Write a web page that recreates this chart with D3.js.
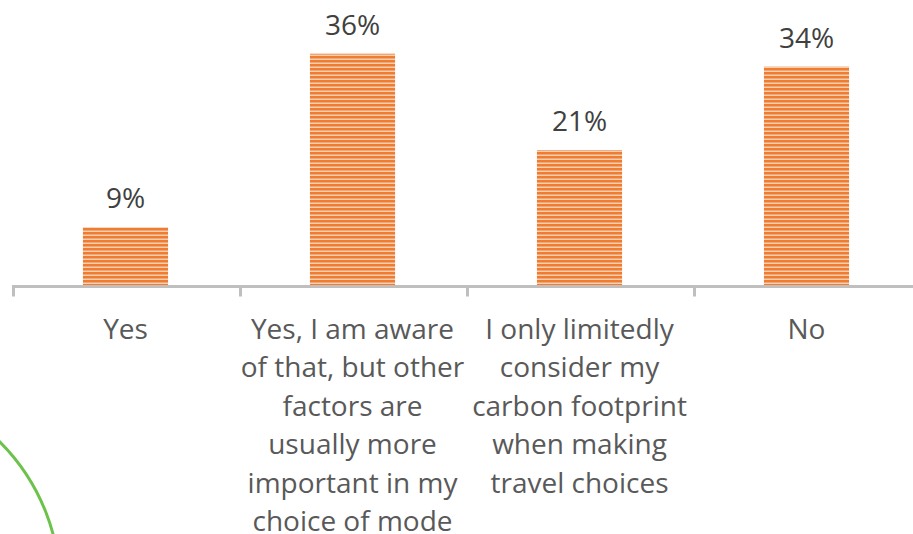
<!DOCTYPE html>
<html>
<head>
<meta charset="utf-8">
<script src="https://cdn.jsdelivr.net/npm/d3@7/dist/d3.min.js"></script>
<style>
  html, body { margin: 0; padding: 0; background: #fff; }
  svg { display: block; }
</style>
</head>
<body>
<svg id="chart" width="913" height="534"></svg>
<script>
// Categories (one entry per line of the wrapped axis label)
const categories = ["Yes", "Aware", "Limited", "No"];
const categoryLines = [
  ["Yes"],
  ["Yes, I am aware", "of that, but other", "factors are", "usually more", "important in my", "choice of mode"],
  ["I only limitedly", "consider my", "carbon footprint", "when making", "travel choices"],
  ["No"]
];
const shares = [9, 36, 21, 34];
const valueLabels = ["9%", "36%", "21%", "34%"];

const W = 913, H = 534;
const svg = d3.select("#chart");
const FONT = "'Open Sans', 'Noto Sans', sans-serif";

// Horizontal striped fill for the bars
const defs = svg.append("defs");
const pat = defs.append("pattern")
  .attr("id", "stripes")
  .attr("patternUnits", "userSpaceOnUse")
  .attr("width", 8).attr("height", 4);
pat.append("rect").attr("width", 8).attr("height", 4).attr("fill", "#f9cfb3");
pat.append("rect").attr("y", 0).attr("width", 8).attr("height", 2.5).attr("fill", "#ee7d32");

const baseline = 285;
const x = d3.scaleBand().domain(categories).range([12, 920]).paddingInner(0).paddingOuter(0);
const y = d3.scaleLinear().domain([0, 40]).range([baseline, baseline - 257]);
const barW = x.bandwidth() * 0.375;

// Decorative green arc in the lower-left corner
svg.append("circle")
  .attr("cx", -145).attr("cy", 587).attr("r", 205)
  .attr("fill", "none").attr("stroke", "#6cc24a").attr("stroke-width", 3);

// Bars
svg.selectAll("rect.bar").data(categories).join("rect")
  .attr("class", "bar")
  .attr("x", d => x(d) + (x.bandwidth() - barW) / 2)
  .attr("width", barW)
  .attr("y", (d, i) => y(shares[i]))
  .attr("height", (d, i) => y(0) - y(shares[i]))
  .attr("fill", "url(#stripes)");

// Value labels
svg.selectAll("text.val").data(categories).join("text")
  .attr("class", "val")
  .attr("x", d => x(d) + x.bandwidth() / 2)
  .attr("y", (d, i) => y(shares[i]) - 19)
  .attr("text-anchor", "middle")
  .attr("font-family", FONT).attr("font-size", 28)
  .attr("fill", "#404040")
  .text((d, i) => valueLabels[i]);

// Category axis
const axis = svg.append("g").attr("transform", `translate(0,${baseline + 1.5})`)
  .call(d3.axisBottom(x).tickSize(0).tickFormat(""));
axis.select(".domain").remove();
axis.append("line").attr("x1", 12).attr("x2", W).attr("y1", 0).attr("y2", 0)
  .attr("stroke", "#bfbfbf").attr("stroke-width", 3);
const edges = categories.map(d => x(d)).concat([x.range()[1]]);
axis.selectAll("line.tick-mark").data(edges).join("line")
  .attr("class", "tick-mark")
  .attr("x1", d => d + 1.5).attr("x2", d => d + 1.5)
  .attr("y1", 0).attr("y2", 10)
  .attr("stroke", "#bfbfbf").attr("stroke-width", 3);

// Wrapped category labels
const lab = svg.selectAll("text.cat").data(categories).join("text")
  .attr("class", "cat")
  .attr("text-anchor", "middle")
  .attr("font-family", FONT).attr("font-size", 28)
  .attr("fill", "#595959");
lab.each(function (d, i) {
  const t = d3.select(this);
  categoryLines[i].forEach((ln, k) => {
    t.append("tspan")
      .attr("x", x(d) + x.bandwidth() / 2)
      .attr("y", 339 + k * 38.4)
      .text(ln);
  });
});
</script>
</body>
</html>
